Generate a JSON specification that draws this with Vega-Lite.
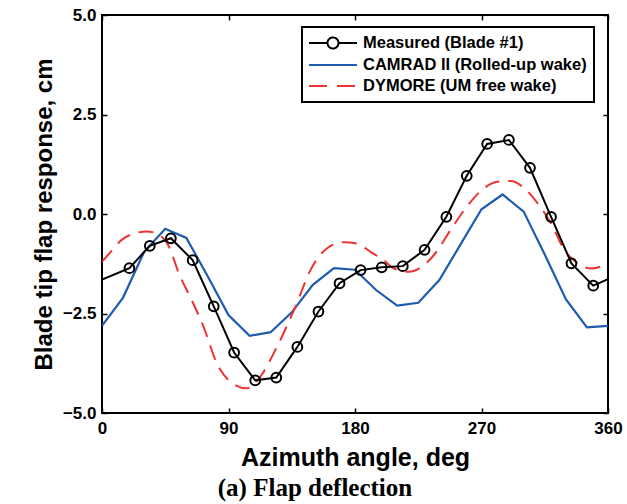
{
  "$schema": "https://vega.github.io/schema/vega-lite/v6.json",
  "width": 506,
  "height": 398,
  "autosize": "none",
  "padding": {"left": 102, "top": 15, "right": 19, "bottom": 91},
  "background": "white",
  "config": {
    "view": {"stroke": "black", "strokeWidth": 2},
    "axis": {
      "labelFont": "Liberation Sans", "labelFontWeight": "bold", "labelFontSize": 17, "labelColor": "black",
      "titleFont": "Liberation Sans", "titleFontWeight": "bold", "titleFontSize": 24, "titleColor": "black",
      "grid": false, "domain": false, "tickColor": "black", "tickWidth": 1.5, "tickSize": -5
    }
  },
  "title": {"text": "(a) Flap deflection", "orient": "bottom", "font": "Liberation Serif", "fontSize": 25, "fontWeight": "bold", "color": "black", "dx": -40, "offset": 6},
  "data": {"values": [
    {"series": "Measured (Blade #1)", "azimuth": 0, "value": -1.65},
    {"series": "Measured (Blade #1)", "azimuth": 19.5, "value": -1.36},
    {"series": "Measured (Blade #1)", "azimuth": 34, "value": -0.80},
    {"series": "Measured (Blade #1)", "azimuth": 49, "value": -0.61},
    {"series": "Measured (Blade #1)", "azimuth": 64.5, "value": -1.16},
    {"series": "Measured (Blade #1)", "azimuth": 79.5, "value": -2.32},
    {"series": "Measured (Blade #1)", "azimuth": 94, "value": -3.48},
    {"series": "Measured (Blade #1)", "azimuth": 109, "value": -4.18},
    {"series": "Measured (Blade #1)", "azimuth": 124, "value": -4.11},
    {"series": "Measured (Blade #1)", "azimuth": 139, "value": -3.34},
    {"series": "Measured (Blade #1)", "azimuth": 154, "value": -2.45},
    {"series": "Measured (Blade #1)", "azimuth": 169, "value": -1.74},
    {"series": "Measured (Blade #1)", "azimuth": 184, "value": -1.41},
    {"series": "Measured (Blade #1)", "azimuth": 199, "value": -1.34},
    {"series": "Measured (Blade #1)", "azimuth": 214, "value": -1.31},
    {"series": "Measured (Blade #1)", "azimuth": 229.5, "value": -0.90},
    {"series": "Measured (Blade #1)", "azimuth": 245, "value": -0.07},
    {"series": "Measured (Blade #1)", "azimuth": 259.5, "value": 0.96},
    {"series": "Measured (Blade #1)", "azimuth": 274, "value": 1.76},
    {"series": "Measured (Blade #1)", "azimuth": 289.5, "value": 1.86},
    {"series": "Measured (Blade #1)", "azimuth": 304.5, "value": 1.16},
    {"series": "Measured (Blade #1)", "azimuth": 319.5, "value": -0.07},
    {"series": "Measured (Blade #1)", "azimuth": 334, "value": -1.24},
    {"series": "Measured (Blade #1)", "azimuth": 349.5, "value": -1.80},
    {"series": "Measured (Blade #1)", "azimuth": 360, "value": -1.64},
    {"series": "CAMRAD II (Rolled-up wake)", "azimuth": 0, "value": -2.81},
    {"series": "CAMRAD II (Rolled-up wake)", "azimuth": 15, "value": -2.10},
    {"series": "CAMRAD II (Rolled-up wake)", "azimuth": 30, "value": -0.95},
    {"series": "CAMRAD II (Rolled-up wake)", "azimuth": 45, "value": -0.37},
    {"series": "CAMRAD II (Rolled-up wake)", "azimuth": 60, "value": -0.60},
    {"series": "CAMRAD II (Rolled-up wake)", "azimuth": 75, "value": -1.55},
    {"series": "CAMRAD II (Rolled-up wake)", "azimuth": 90, "value": -2.54},
    {"series": "CAMRAD II (Rolled-up wake)", "azimuth": 105, "value": -3.06},
    {"series": "CAMRAD II (Rolled-up wake)", "azimuth": 120, "value": -2.97},
    {"series": "CAMRAD II (Rolled-up wake)", "azimuth": 135, "value": -2.47},
    {"series": "CAMRAD II (Rolled-up wake)", "azimuth": 150, "value": -1.78},
    {"series": "CAMRAD II (Rolled-up wake)", "azimuth": 165, "value": -1.36},
    {"series": "CAMRAD II (Rolled-up wake)", "azimuth": 180, "value": -1.40},
    {"series": "CAMRAD II (Rolled-up wake)", "azimuth": 195, "value": -1.91},
    {"series": "CAMRAD II (Rolled-up wake)", "azimuth": 210, "value": -2.30},
    {"series": "CAMRAD II (Rolled-up wake)", "azimuth": 225, "value": -2.23},
    {"series": "CAMRAD II (Rolled-up wake)", "azimuth": 240, "value": -1.66},
    {"series": "CAMRAD II (Rolled-up wake)", "azimuth": 255, "value": -0.77},
    {"series": "CAMRAD II (Rolled-up wake)", "azimuth": 270, "value": 0.12},
    {"series": "CAMRAD II (Rolled-up wake)", "azimuth": 285, "value": 0.49},
    {"series": "CAMRAD II (Rolled-up wake)", "azimuth": 300, "value": 0.06},
    {"series": "CAMRAD II (Rolled-up wake)", "azimuth": 315, "value": -1.02},
    {"series": "CAMRAD II (Rolled-up wake)", "azimuth": 330, "value": -2.14},
    {"series": "CAMRAD II (Rolled-up wake)", "azimuth": 345, "value": -2.85},
    {"series": "CAMRAD II (Rolled-up wake)", "azimuth": 360, "value": -2.81},
    {"series": "DYMORE (UM free wake)", "azimuth": 0, "value": -1.20},
    {"series": "DYMORE (UM free wake)", "azimuth": 7, "value": -0.92},
    {"series": "DYMORE (UM free wake)", "azimuth": 14, "value": -0.65},
    {"series": "DYMORE (UM free wake)", "azimuth": 22, "value": -0.50},
    {"series": "DYMORE (UM free wake)", "azimuth": 32, "value": -0.44},
    {"series": "DYMORE (UM free wake)", "azimuth": 39, "value": -0.49},
    {"series": "DYMORE (UM free wake)", "azimuth": 47, "value": -0.78},
    {"series": "DYMORE (UM free wake)", "azimuth": 55.6, "value": -1.57},
    {"series": "DYMORE (UM free wake)", "azimuth": 62.7, "value": -2.08},
    {"series": "DYMORE (UM free wake)", "azimuth": 72.2, "value": -2.83},
    {"series": "DYMORE (UM free wake)", "azimuth": 81.7, "value": -3.75},
    {"series": "DYMORE (UM free wake)", "azimuth": 91.2, "value": -4.21},
    {"series": "DYMORE (UM free wake)", "azimuth": 103, "value": -4.38},
    {"series": "DYMORE (UM free wake)", "azimuth": 112.6, "value": -4.09},
    {"series": "DYMORE (UM free wake)", "azimuth": 123.3, "value": -3.42},
    {"series": "DYMORE (UM free wake)", "azimuth": 137.6, "value": -2.33},
    {"series": "DYMORE (UM free wake)", "azimuth": 148.3, "value": -1.41},
    {"series": "DYMORE (UM free wake)", "azimuth": 160.2, "value": -0.86},
    {"series": "DYMORE (UM free wake)", "azimuth": 172, "value": -0.71},
    {"series": "DYMORE (UM free wake)", "azimuth": 182, "value": -0.75},
    {"series": "DYMORE (UM free wake)", "azimuth": 191, "value": -0.95},
    {"series": "DYMORE (UM free wake)", "azimuth": 200.5, "value": -1.16},
    {"series": "DYMORE (UM free wake)", "azimuth": 207.7, "value": -1.37},
    {"series": "DYMORE (UM free wake)", "azimuth": 218.4, "value": -1.45},
    {"series": "DYMORE (UM free wake)", "azimuth": 225.5, "value": -1.37},
    {"series": "DYMORE (UM free wake)", "azimuth": 236.2, "value": -1.03},
    {"series": "DYMORE (UM free wake)", "azimuth": 248, "value": -0.40},
    {"series": "DYMORE (UM free wake)", "azimuth": 258.8, "value": 0.15},
    {"series": "DYMORE (UM free wake)", "azimuth": 271.8, "value": 0.65},
    {"series": "DYMORE (UM free wake)", "azimuth": 281.4, "value": 0.81},
    {"series": "DYMORE (UM free wake)", "azimuth": 290.8, "value": 0.83},
    {"series": "DYMORE (UM free wake)", "azimuth": 300.4, "value": 0.65},
    {"series": "DYMORE (UM free wake)", "azimuth": 309.9, "value": 0.27},
    {"series": "DYMORE (UM free wake)", "azimuth": 319.4, "value": -0.23},
    {"series": "DYMORE (UM free wake)", "azimuth": 328.9, "value": -0.90},
    {"series": "DYMORE (UM free wake)", "azimuth": 338.4, "value": -1.24},
    {"series": "DYMORE (UM free wake)", "azimuth": 347.9, "value": -1.37},
    {"series": "DYMORE (UM free wake)", "azimuth": 360, "value": -1.24}
  ]},
  "resolve": {"axis": {"x": "independent", "y": "independent"}},
  "layer": [
    {
      "transform": [{"filter": "datum.series === 'CAMRAD II (Rolled-up wake)'"}],
      "mark": {"type": "line", "strokeWidth": 2.2, "clip": true},
      "encoding": {
        "x": {"field": "azimuth", "type": "quantitative", "scale": {"domain": [0, 360], "nice": false},
              "axis": {"values": [0, 90, 180, 270, 360], "title": "Azimuth angle, deg", "titleFontSize": 25, "labelPadding": 12, "titlePadding": 9, "labelFlush": false}},
        "y": {"field": "value", "type": "quantitative", "scale": {"domain": [-5, 5], "nice": false},
              "axis": {"values": [-5, -2.5, 0, 2.5, 5], "format": ".1f", "title": "Blade tip flap response, cm", "labelPadding": 11, "titlePadding": 6, "labelFlush": false}},
        "color": {"field": "series", "type": "nominal",
          "scale": {"domain": ["Measured (Blade #1)", "CAMRAD II (Rolled-up wake)", "DYMORE (UM free wake)"], "range": ["#000000", "#1f5bb0", "#ee3333"]},
          "legend": {
            "title": null, "orient": "none", "legendX": 200, "legendY": 12,
            "labelFont": "Liberation Sans", "labelFontWeight": "bold", "labelFontSize": 16.5, "labelColor": "black", "labelLimit": 400,
            "symbolType": "M-5,0H1", "symbolSize": 256, "symbolStrokeWidth": 2, "symbolOffset": 31, "labelOffset": 5,
            "rowPadding": 3, "padding": 7, "strokeColor": "black",
            "encode": {
              "legend": {"update": {"strokeWidth": {"value": 2}}},
              "symbols": {"update": {
                "fill": {"value": "transparent"},
                "shape": [{"test": "datum.label === 'Measured (Blade #1)'", "value": "M-5,0H-2.69M-1.31,0H1M-1.31,0A0.69,0.69 0 1 1 -2.69,0A0.69,0.69 0 1 1 -1.31,0"}, {"value": "M-5,0H1"}],
                "strokeDash": [{"test": "datum.label === 'DYMORE (UM free wake)'", "value": [18, 10]}, {"value": [1, 0]}]
              }}
            }
          }}
      }
    },
    {
      "transform": [{"filter": "datum.series === 'DYMORE (UM free wake)'"}],
      "mark": {"type": "line", "strokeWidth": 2, "strokeDash": [15, 9], "interpolate": "monotone", "clip": true},
      "encoding": {
        "x": {"field": "azimuth", "type": "quantitative", "axis": null},
        "y": {"field": "value", "type": "quantitative", "axis": null},
        "color": {"field": "series", "type": "nominal"}
      }
    },
    {
      "transform": [{"filter": "datum.series === 'Measured (Blade #1)'"}],
      "mark": {"type": "line", "strokeWidth": 2, "clip": true},
      "encoding": {
        "x": {"field": "azimuth", "type": "quantitative", "axis": null},
        "y": {"field": "value", "type": "quantitative", "axis": null},
        "color": {"field": "series", "type": "nominal"}
      }
    },
    {
      "transform": [{"filter": "datum.series === 'Measured (Blade #1)' && datum.azimuth > 1 && datum.azimuth < 359"}],
      "mark": {"type": "point", "shape": "circle", "size": 95, "filled": false, "stroke": "black", "strokeWidth": 2, "opacity": 1},
      "encoding": {
        "x": {"field": "azimuth", "type": "quantitative", "axis": null},
        "y": {"field": "value", "type": "quantitative", "axis": null}
      }
    },
    {
      "transform": [{"filter": "datum.series === 'Measured (Blade #1)'"}],
      "mark": {"type": "point", "opacity": 0},
      "encoding": {
        "x": {"field": "azimuth", "type": "quantitative", "axis": {"orient": "top", "values": [0, 90, 180, 270, 360], "labels": false, "title": null}},
        "y": {"field": "value", "type": "quantitative", "axis": {"orient": "right", "values": [-5, -2.5, 0, 2.5, 5], "labels": false, "title": null}}
      }
    }
  ]
}
